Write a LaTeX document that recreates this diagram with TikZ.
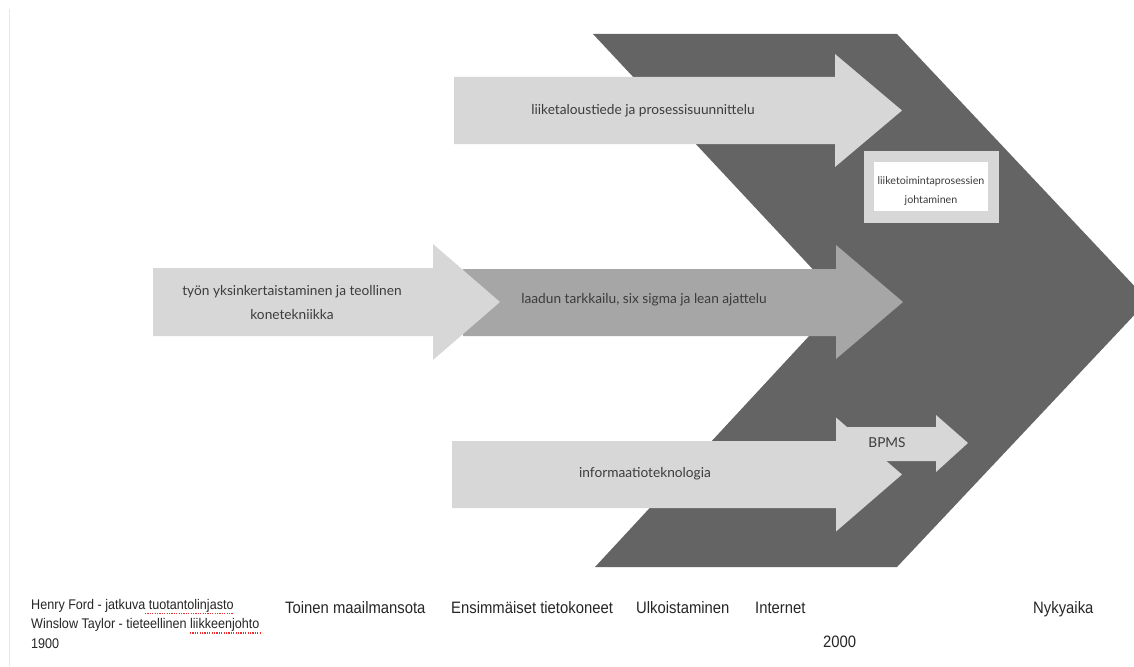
\documentclass[tikz,border=0pt]{standalone}
\usepackage{fontspec}
\setmainfont{Lato}
\newfontfamily\tlfont[FakeStretch=0.9]{Liberation Sans}
\definecolor{chevron}{HTML}{646464}
\definecolor{pale}{HTML}{D7D7D7}
\definecolor{mid}{HTML}{A6A6A6}
\definecolor{ink}{HTML}{3C3C3C}
\definecolor{squiggle}{HTML}{E83030}

\begin{document}
\begin{tikzpicture}[x=1pt,y=-1pt,
  arrowtext/.style={text=ink, font=\fontsize{13.7}{24}\selectfont, align=center, inner sep=0pt},
  boxtext/.style={text=ink, font=\fontsize{10.7}{19}\selectfont, align=center, inner sep=0pt},
  era/.style={text=black!85, font=\tlfont\fontsize{16.5}{19}\selectfont, inner sep=0pt, anchor=base west},
  note/.style={text=black!85, font=\tlfont\fontsize{14}{19.5}\selectfont, inner sep=0pt, anchor=base west},
  spell/.style={squiggle, line width=1.2pt, dash pattern=on 1.2pt off 1.2pt}]

\useasboundingbox (0,0) rectangle (1134,666);
\clip (0,0) rectangle (1134,666);
\fill[white] (0,0) rectangle (1134,666);

% thin page margin line
\draw[gray!18, line width=0.8pt] (9.5,9) -- (9.5,666);

% large chevron
\fill[chevron] (593,34) -- (897,34) -- (1148,300.5) -- (897,567)
  -- (595,567) -- (842,300.5) -- cycle;

% upper arrow
\fill[pale] (454,77) -- (835,77) -- (835,54) -- (902,110.5) -- (835,167)
  -- (835,144) -- (454,144) -- cycle;

% middle arrows
\fill[mid] (463,269) -- (836,269) -- (836,245) -- (903,302) -- (836,359)
  -- (836,336) -- (463,336) -- cycle;
\fill[pale] (153,268) -- (433,268) -- (433,244) -- (500,302) -- (433,360)
  -- (433,336) -- (153,336) -- cycle;

% lower arrow and the small BPMS arrow
\fill[pale] (845,427) -- (936,427) -- (936,415) -- (968,443) -- (936,472)
  -- (936,461) -- (845,461) -- cycle;
\fill[pale] (452,441) -- (836,441) -- (836,417.5) -- (902,474.5) -- (836,531.5)
  -- (836,508) -- (452,508) -- cycle;

% framed label inside the chevron
\fill[pale] (864,151) rectangle (999,223);
\fill[white] (874,162) rectangle (988,211);

% arrow labels
\node[arrowtext] (bizdesign) at (643,111) {liiketaloustiede ja prosessisuunnittelu};
\node[arrowtext] (simplify) at (292,303) {työn yksinkertaistaminen ja teollinen\\konetekniikka};
\node[arrowtext] (quality) at (644,300) {laadun tarkkailu, six sigma ja lean ajattelu};
\node[arrowtext] (infotech) at (645,474) {informaatioteknologia};
\node[arrowtext] (bpms) at (887,443) {BPMS};
\node[boxtext] (bpm) at (931,191) {liiketoimintaprosessien\\johtaminen};

% timeline
\node[note] (ford) at (31,609) {Henry Ford - jatkuva tuotantolinjasto};
\node[note] (taylor) at (31,628.5) {Winslow Taylor - tieteellinen liikkeenjohto};
\node[note] (y1900) at (31,648) {1900};
\node[era] (ww2) at (285,613) {Toinen maailmansota};
\node[era] (computers) at (451,613) {Ensimmäiset tietokoneet};
\node[era] (outsourcing) at (636,613) {Ulkoistaminen};
\node[era] (internet) at (755,613) {Internet};
\node[era] (today) at (1033,613) {Nykyaika};
\node[era] (y2000) at (823,647) {2000};

% spell-check underlines
\draw[spell] (145,613.5) -- (233,613.5);
\draw[spell] (190,633) -- (262,633);
\end{tikzpicture}
\end{document}
